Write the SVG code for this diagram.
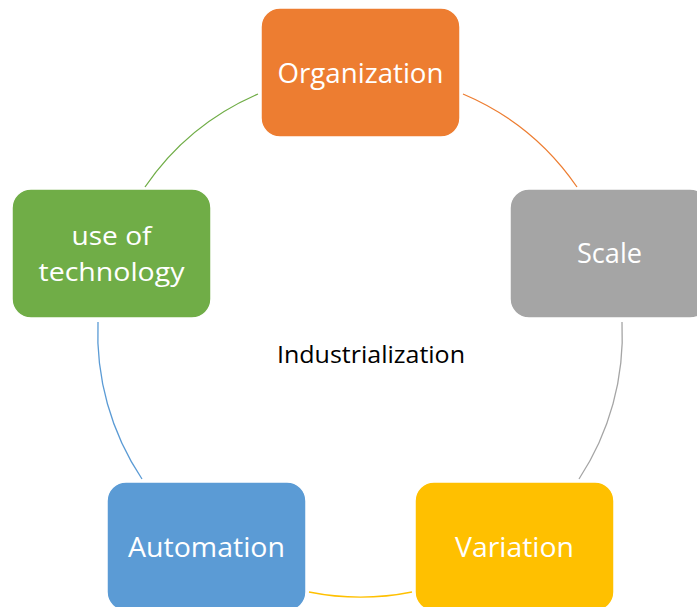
<svg xmlns="http://www.w3.org/2000/svg" width="697" height="607" viewBox="0 0 697 607">
  <style>
    .box { stroke: #ffffff; stroke-width: 1.5; }
    .label { font-family: "Open Sans", "Liberation Sans", sans-serif; font-size: 28px; fill: #ffffff; text-anchor: middle; }
    .label.two-line { font-size: 26px; }
    .title { font-family: "Open Sans", "Liberation Sans", sans-serif; font-size: 24px; fill: #000000; text-anchor: middle; }
    .link { fill: none; stroke-width: 1.3; }
  </style>
  <rect width="697" height="607" fill="#ffffff"/>

  <!-- circular connectors between the stages -->
  <g id="connectors">
    <path class="link" stroke="#ED7D31" d="M463,94 A262,262 0 0,1 577,187"/>
    <path class="link" stroke="#A5A5A5" d="M622,322 A262,262 0 0,1 579,479"/>
    <path class="link" stroke="#FFC000" d="M412,592 A262,262 0 0,1 309,592"/>
    <path class="link" stroke="#5B9BD5" d="M142,479 A262,262 0 0,1 98,322"/>
    <path class="link" stroke="#70AD47" d="M145,187 A262,262 0 0,1 258,94"/>
  </g>

  <g id="center-label">
    <text class="title" x="371" y="363" textLength="188" lengthAdjust="spacingAndGlyphs">Industrialization</text>
  </g>

  <g id="organization">
    <rect class="box" x="261" y="8" width="199" height="129" rx="19" fill="#ED7D31"/>
    <text class="label" x="360.5" y="83" textLength="166" lengthAdjust="spacingAndGlyphs">Organization</text>
  </g>

  <g id="scale">
    <rect class="box" x="510" y="189" width="199" height="129" rx="19" fill="#A5A5A5"/>
    <text class="label" x="609.5" y="263" textLength="65" lengthAdjust="spacingAndGlyphs">Scale</text>
  </g>

  <g id="variation">
    <rect class="box" x="415" y="482" width="199" height="129" rx="19" fill="#FFC000"/>
    <text class="label" x="514.5" y="557" textLength="119" lengthAdjust="spacingAndGlyphs">Variation</text>
  </g>

  <g id="automation">
    <rect class="box" x="107" y="482" width="199" height="129" rx="19" fill="#5B9BD5"/>
    <text class="label" x="206.5" y="557" textLength="157" lengthAdjust="spacingAndGlyphs">Automation</text>
  </g>

  <g id="use-of-technology">
    <rect class="box" x="12" y="189" width="199" height="129" rx="19" fill="#70AD47"/>
    <text class="label two-line" x="111.5" y="245" textLength="80" lengthAdjust="spacingAndGlyphs">use of</text>
    <text class="label two-line" x="111.5" y="281" textLength="146" lengthAdjust="spacingAndGlyphs">technology</text>
  </g>
</svg>
